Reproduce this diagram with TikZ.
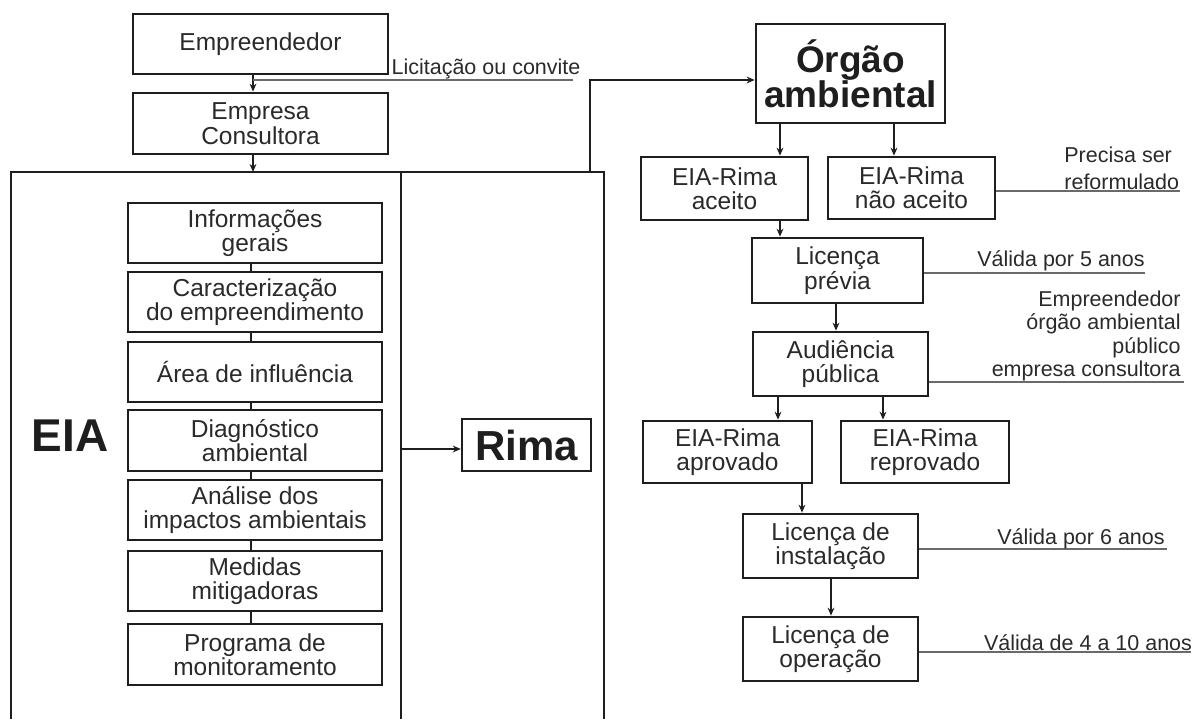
\documentclass[tikz,border=0pt]{standalone}
\usepackage{fontspec}
\setmainfont{Liberation Sans}
\usetikzlibrary{arrows.meta}
\definecolor{ink}{HTML}{1E1E1E}
\definecolor{lbl}{HTML}{2A2A2A}
\definecolor{rulec}{HTML}{6A6A6A}
\begin{document}
\begin{tikzpicture}[x=0.5pt,y=-0.5pt,
  box/.style={draw=ink, line width=1.35pt, inner sep=0pt, align=center, text=lbl,
              font=\fontsize{12.25}{12.2}\selectfont},
  arr/.style={draw=ink, line width=0.75pt, -{Stealth[length=4pt,width=3.4pt]}},
  plainline/.style={draw=ink, line width=0.75pt},
  sideline/.style={draw=rulec, line width=0.9pt},
  sidetext/.style={text=lbl, inner sep=0pt, font=\fontsize{10.75}{11.4}\selectfont},
  framel/.style={draw=ink, line width=1.2pt}]
\useasboundingbox (0,0) rectangle (1196,719);
\fill[white] (0,0) rectangle (1196,719);

% ---- left column ----
\node[box, minimum width=127.5pt, minimum height=30pt] (emp) at (260.5,44) {Empreendedor};
\node[box, minimum width=127.5pt, minimum height=30.5pt] (cons) at (260.5,123.5) {Empresa\\Consultora};

% frame of EIA / Rima
\coordinate (fbl) at (11,719);
\coordinate (ftl) at (11,172);
\coordinate (ftr) at (604,172);
\coordinate (fbr) at (604,719);
\coordinate (dtop) at (401,172);
\coordinate (dbot) at (401,719);
\draw[framel] (fbl) -- (ftl) -- (ftr) -- (fbr);
\draw[plainline] (dtop) -- (dbot);

\coordinate (ax) at (253,0);
\draw[arr] (emp.south -| ax) -- (cons.north -| ax);
\draw[arr] (cons.south -| ax) -- (ftl -| ax);

% Licitação
\coordinate (lic1) at (253,80);
\coordinate (lic2) at (573,80);
\draw[sideline] (lic1) -- (lic2);
\node[sidetext, anchor=base] (lict) at (486,74) {Licitação ou convite};

% EIA inner boxes
\node[box, minimum width=127pt, minimum height=30pt] (i1) at (255,233) {Informações\\gerais};
\node[box, minimum width=127pt, minimum height=30pt] (i2) at (255,302) {Caracterização\\do empreendimento};
\node[box, minimum width=127pt, minimum height=30pt] (i3) at (255,372) {Área de influência};
\node[box, minimum width=127pt, minimum height=30.5pt] (i4) at (255,440.5) {Diagnóstico\\ambiental};
\node[box, minimum width=127pt, minimum height=30pt] (i5) at (255,510) {Análise dos\\impactos ambientais};
\node[box, minimum width=127pt, minimum height=30pt] (i6) at (255,581) {Medidas\\mitigadoras};
\node[box, minimum width=127pt, minimum height=30.5pt] (i7) at (255,654.5) {Programa de\\monitoramento};
\coordinate (ix) at (251,0);
\foreach \a/\b in {i1/i2,i2/i3,i3/i4,i4/i5,i5/i6,i6/i7}
  \draw[plainline] (\a.south -| ix) -- (\b.north -| ix);

\node[text=ink, inner sep=0pt, font=\fontsize{23}{23}\selectfont\bfseries] (eia) at (70,436) {EIA};

\node[box, line width=1.2pt, minimum width=64.5pt, minimum height=26pt,
      text=ink, font=\fontsize{21}{21}\selectfont\bfseries] (rima) at (526.5,445) {Rima};
\coordinate (ry) at (0,449);
\draw[arr] (dtop |- ry) -- (rima.west |- ry);

% ---- right column ----
\node[box, minimum width=94.5pt, minimum height=49.5pt, text=ink,
      font=\fontsize{18.5}{17.5}\selectfont\bfseries] (orgao) at (850.5,73.5) {Órgão\\ambiental};
\coordinate (fo) at (590,172);
\coordinate (fu) at (590,80);
\draw[arr] (fo) -- (fu) -- (orgao.west |- fu);

\node[box, minimum width=83.5pt, minimum height=31.5pt] (ac) at (724.5,188.5) {EIA-Rima\\aceito};
\node[box, minimum width=83.5pt, minimum height=31pt] (nac) at (911.5,188) {EIA-Rima\\não aceito};
\coordinate (c780) at (780,0);
\coordinate (c894) at (894,0);
\draw[arr] (orgao.south -| c780) -- (ac.north -| c780);
\draw[arr] (orgao.south -| c894) -- (nac.north -| c894);

\node[box, minimum width=85.5pt, minimum height=32.5pt] (lp) at (837.5,270.5) {Licença\\prévia};
\draw[arr] (ac.south -| c780) -- (lp.north -| c780);

\node[box, minimum width=87.5pt, minimum height=32pt] (aud) at (840.5,364) {Audiência\\pública};
\coordinate (c836) at (836,0);
\draw[arr] (lp.south -| c836) -- (aud.north -| c836);

\node[box, minimum width=84.5pt, minimum height=31pt] (apr) at (727.5,452) {EIA-Rima\\aprovado};
\node[box, minimum width=84pt, minimum height=31pt] (rep) at (925,452) {EIA-Rima\\reprovado};
\coordinate (c778) at (778,0);
\coordinate (c883) at (883,0);
\draw[arr] (aud.south -| c778) -- (apr.north -| c778);
\draw[arr] (aud.south -| c883) -- (rep.north -| c883);

\node[box, minimum width=87.5pt, minimum height=32pt] (li) at (830.5,546) {Licença de\\instalação};
\coordinate (c802) at (802,0);
\draw[arr] (apr.south -| c802) -- (li.north -| c802);

\node[box, minimum width=87.5pt, minimum height=32pt] (lo) at (830.5,649) {Licença de\\operação};
\coordinate (c831) at (831,0);
\draw[arr] (li.south -| c831) -- (lo.north -| c831);

% ---- side notes ----
\coordinate (e1) at (1180,191);
\draw[sideline] (nac.east |- e1) -- (e1);
\node[sidetext, anchor=west, align=left, font=\fontsize{10.75}{13.5}\selectfont] (t1) at (1064,168) {Precisa ser\\reformulado};

\coordinate (e2) at (1145,273);
\draw[sideline] (lp.east |- e2) -- (e2);
\node[sidetext, anchor=base] (t2) at (1061,266) {Válida por 5 anos};

\coordinate (e3) at (1184,382);
\draw[sideline] (aud.east |- e3) -- (e3);
\node[sidetext, anchor=east, align=right, font=\fontsize{10.75}{11.8}\selectfont] (t3) at (1181,336) {Empreendedor\\órgão ambiental\\público\\empresa consultora};

\coordinate (e4) at (1167,549);
\draw[sideline] (li.east |- e4) -- (e4);
\node[sidetext, anchor=base] (t4) at (1081,544) {Válida por 6 anos};

\coordinate (e5) at (1191,652);
\draw[sideline] (lo.east |- e5) -- (e5);
\node[sidetext, anchor=base] (t5) at (1088,650) {Válida de 4 a 10 anos};
\end{tikzpicture}
\end{document}
